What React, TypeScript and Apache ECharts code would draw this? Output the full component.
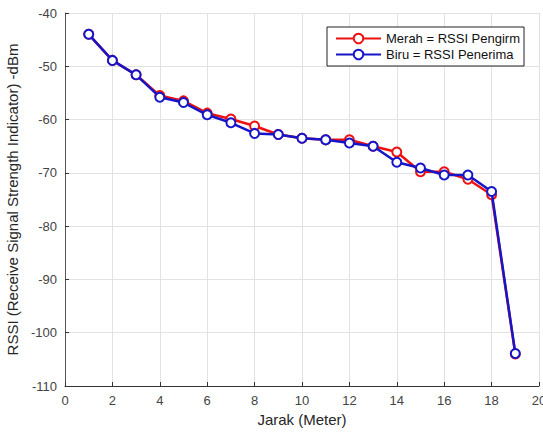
import React, { useEffect, useRef } from "react";
import * as echarts from "echarts";

const jarak = [1, 2, 3, 4, 5, 6, 7, 8, 9, 10, 11, 12, 13, 14, 15, 16, 17, 18, 19];
const rssiPengirim = [-44, -48.9, -51.6, -55.5, -56.5, -58.8, -59.9, -61.2, -62.8, -63.5, -63.8, -63.8, -65, -66.1, -69.8, -69.8, -71.2, -74.1, -104];
const rssiPenerima = [-44, -48.9, -51.6, -55.8, -56.8, -59.1, -60.6, -62.6, -62.8, -63.5, -63.8, -64.4, -65, -68.0, -69.1, -70.4, -70.4, -73.5, -103.9];
const seriesNames = ["Merah = RSSI Pengirm", "Biru = RSSI Penerima"];

const FONT = "'Liberation Sans', Arial, Helvetica, sans-serif";

export default function App() {
  const ref = useRef<HTMLDivElement>(null);
  useEffect(() => {
    if (!ref.current) return;
    const chart = echarts.init(ref.current, undefined, { renderer: "svg" });
    const mk = (name: string, ys: number[], color: string, z: number) => ({
      name,
      type: "line",
      data: jarak.map((x, i) => [x, ys[i]]),
      symbol: "emptyCircle",
      symbolSize: 9,
      z,
      lineStyle: { color, width: 2.5 },
      itemStyle: { color, borderColor: color, borderWidth: 2.2 },
      emphasis: { disabled: true },
    });
    chart.setOption({
      animation: false,
      textStyle: { fontFamily: FONT },
      grid: { left: 65, right: 4, top: 13, bottom: 48, containLabel: false, outerBoundsMode: "none" },
      legend: {
        left: 327,
        top: 27,
        orient: "vertical",
        backgroundColor: "#fff",
        borderColor: "#222",
        borderWidth: 1,
        borderRadius: 0,
        padding: [5, 4, 5, 8],
        itemGap: 3,
        itemWidth: 45,
        itemHeight: 12,
        textStyle: { fontFamily: FONT, fontSize: 13, color: "#111" },
        data: seriesNames,
      },
      xAxis: {
        type: "value",
        min: 0,
        max: 20,
        interval: 2,
        name: "Jarak (Meter)",
        nameLocation: "middle",
        nameGap: 25,
        nameTextStyle: { fontFamily: FONT, fontSize: 15, color: "#262626" },
        axisLine: { show: true, onZero: false, lineStyle: { color: "#333", width: 1 } },
        axisTick: { show: true, inside: true, length: 4, lineStyle: { color: "#333" } },
        axisLabel: { fontFamily: FONT, fontSize: 13, color: "#444", margin: 8, hideOverlap: false },
        splitLine: { show: true, lineStyle: { color: "#e2e2e2", width: 1 } },
      },
      yAxis: {
        type: "value",
        min: -110,
        max: -40,
        interval: 10,
        name: "RSSI (Receive Signal Strength Indicator) -dBm",
        nameLocation: "middle",
        nameRotate: 90,
        nameGap: 45,
        nameTextStyle: { fontFamily: FONT, fontSize: 15, color: "#262626" },
        axisLine: { show: true, onZero: false, lineStyle: { color: "#555", width: 1 } },
        axisTick: { show: true, inside: true, length: 4, lineStyle: { color: "#333" } },
        axisLabel: { fontFamily: FONT, fontSize: 13, color: "#444", margin: 8 },
        splitLine: { show: true, lineStyle: { color: "#e2e2e2", width: 1 } },
      },
      series: [
        mk(seriesNames[0], rssiPengirim, "#ee1111", 2),
        mk(seriesNames[1], rssiPenerima, "#1616c8", 3),
      ],
    });
    return () => chart.dispose();
  }, []);
  return (
    <div
      ref={ref}
      style={{ position: "absolute", left: 0, top: 0, width: 543, height: 434, background: "#fff" }}
    />
  );
}
